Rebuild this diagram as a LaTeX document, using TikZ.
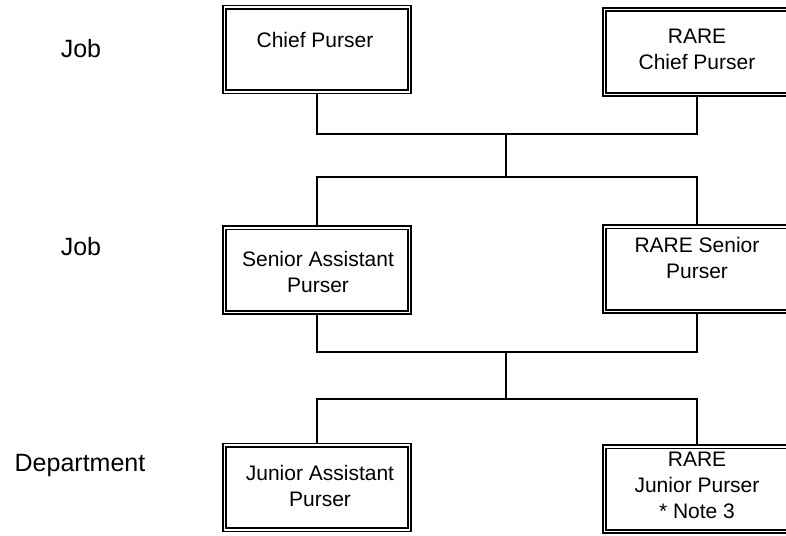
\documentclass[tikz,border=0pt]{standalone}
\usepackage{fontspec}
\setmainfont{Liberation Sans}
\usepackage{tikz}
\usetikzlibrary{positioning, calc}

\begin{document}
\begin{tikzpicture}[x=1pt, y=-1pt,
    post/.style={draw, double, line width=1.8pt, double distance=1.6pt,
        minimum width=184.8pt, minimum height=84.6pt, inner sep=0pt, outer sep=2.6pt},
    wire/.style={line width=2.2pt},
    boxtext/.style={align=center, font=\fontsize{21}{26}\selectfont, inner sep=0pt},
    level/.style={font=\fontsize{25}{30}\selectfont, inner sep=0pt}]
\useasboundingbox (0,0) rectangle (786,535);
\clip (0,0) rectangle (786,535);

% Level labels
\node[level] (lvjoba) at (81,49) {Job};
\node[level] (lvjobb) at (81,247) {Job};
\node[level] (lvdept) at (80,465) {Department};

% Top row
\node[post] (cp) at (317,49.5) {};
\node[boxtext] (cptxt) at (315,40) {Chief Purser};
\node[post] (rcp) at (697,52) {};
\node[boxtext] (rcptxt) at (697,49.5) {RARE\\Chief Purser};

% Middle row
\node[post] (sap) at (317,270) {};
\node[boxtext] (saptxt) at (318,271.5) {Senior Assistant\\Purser};
\node[post] (rsp) at (697,269) {};
\node[boxtext] (rsptxt) at (697,257.5) {RARE Senior\\Purser};

% Bottom row
\node[post] (jap) at (317,487.5) {};
\node[boxtext] (japtxt) at (320,486) {Junior Assistant\\Purser};
\node[post] (rjp) at (697,489) {};
\node[boxtext] (rjptxt) at (697,485) {RARE\\Junior Purser\\* Note 3};

% Junctions
\coordinate (ja) at (506,134);
\coordinate (jb) at (506,177);
\coordinate (jc) at (506,352);
\coordinate (jd) at (506,399);

% Connectors
\draw[wire] (cp.south) |- (ja) -| (rcp.south);
\draw[wire] (ja) -- (jb);
\draw[wire] (sap.north) |- (jb) -| (rsp.north);
\draw[wire] (sap.south) |- (jc) -| (rsp.south);
\draw[wire] (jc) -- (jd);
\draw[wire] (jap.north) |- (jd) -| (rjp.north);
\end{tikzpicture}
\end{document}
